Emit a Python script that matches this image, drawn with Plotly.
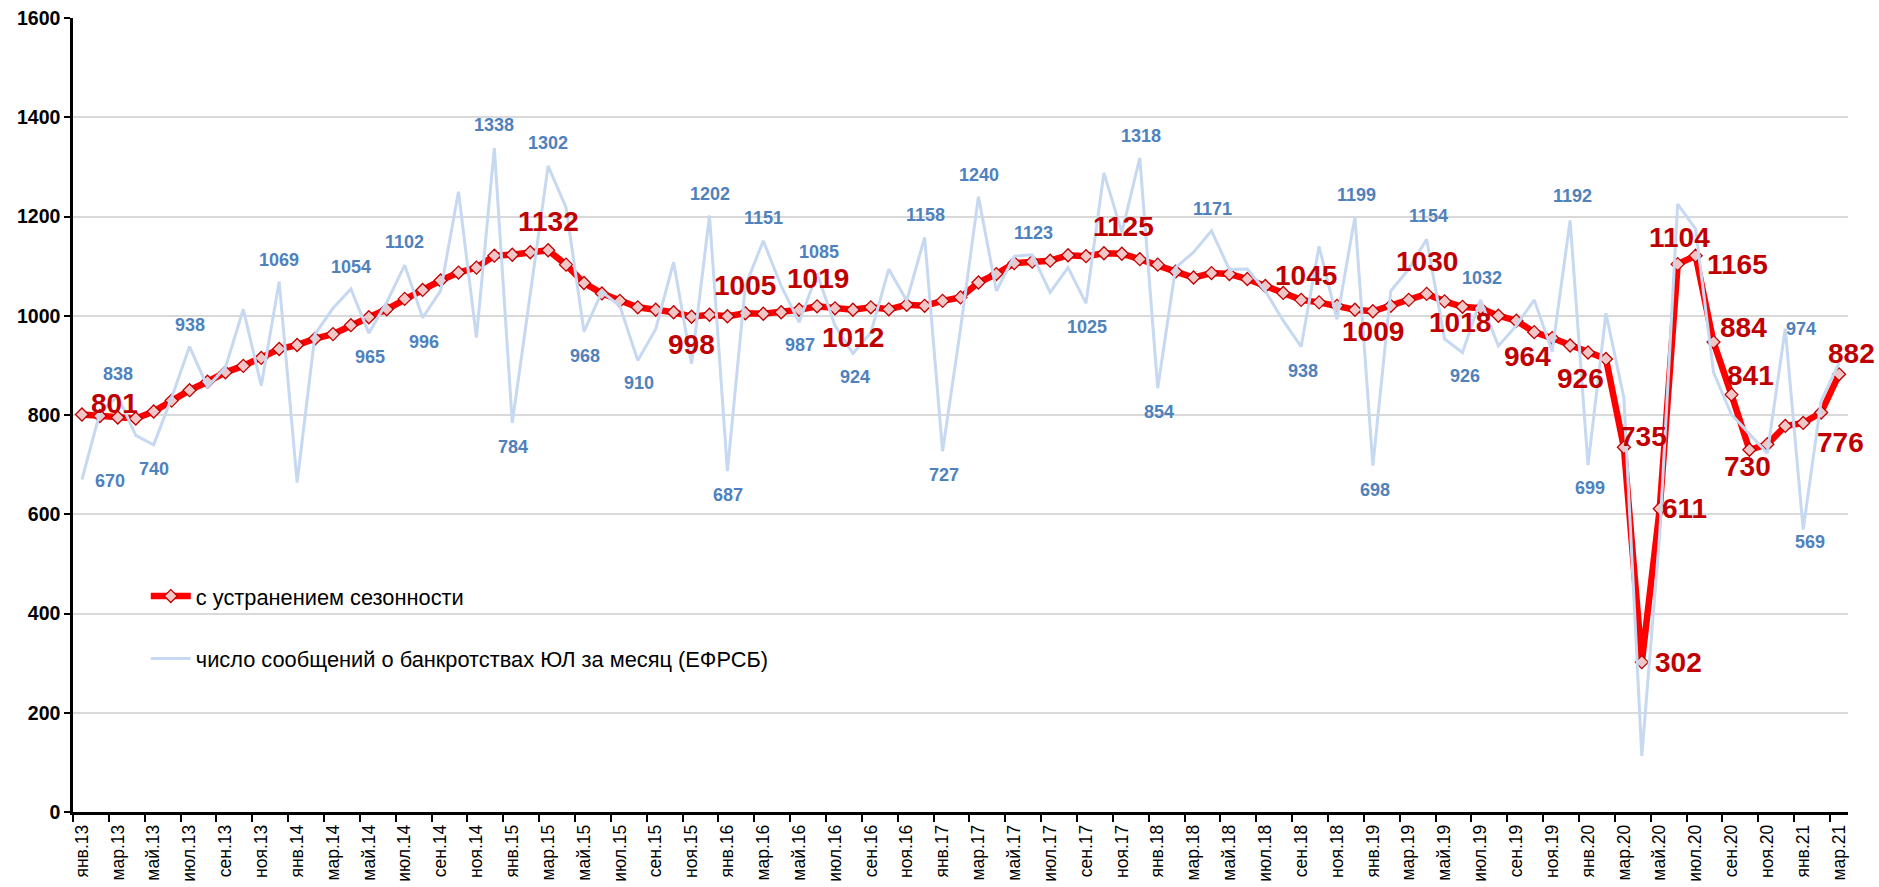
import plotly.graph_objects as go

# ---------------- data ----------------
month_abbr = ["янв", "фев", "мар", "апр", "май", "июн",
              "июл", "авг", "сен", "окт", "ноя", "дек"]
years = ["13", "14", "15", "16", "17", "18", "19", "20", "21"]
categories = [f"{m}.{y}" for y in years for m in month_abbr][:99]
tick_labels = categories[::2]

# seasonally adjusted series (red)
seasonally_adjusted = [
    801, 798, 795, 793, 807, 829, 850, 867, 886, 899, 915, 933,      # 2013
    941, 954, 963, 981, 997, 1013, 1034, 1052, 1071, 1087, 1097, 1121,  # 2014
    1123, 1128, 1132, 1103, 1066, 1045, 1030, 1017, 1012, 1007, 998, 1002,  # 2015
    999, 1005, 1004, 1007, 1012, 1019, 1015, 1012, 1017, 1013, 1022, 1020,  # 2016
    1030, 1037, 1067, 1084, 1106, 1109, 1111, 1122, 1120, 1126, 1125, 1114,  # 2017
    1103, 1089, 1077, 1086, 1084, 1074, 1060, 1046, 1032, 1027, 1020, 1012,  # 2018
    1009, 1020, 1032, 1044, 1029, 1018, 1015, 1000, 990, 967, 955, 940,  # 2019
    926, 913, 735, 302, 611, 1104, 1121, 947, 841, 730, 741, 778,    # 2020
    784, 805, 882,                                                   # 2021
]

# monthly number of EFRSB bankruptcy messages (light blue)
efrsb_monthly = [
    670, 805, 838, 759, 740, 835, 938, 857, 896, 1013, 859, 1069,    # 2013
    664, 963, 1015, 1054, 965, 1027, 1102, 996, 1050, 1250, 956, 1338,  # 2014
    784, 1042, 1302, 1218, 968, 1048, 1020, 910, 973, 1108, 903, 1202,  # 2015
    687, 1060, 1151, 1060, 987, 1085, 980, 924, 966, 1094, 1030, 1158,  # 2016
    727, 973, 1240, 1050, 1120, 1123, 1047, 1097, 1025, 1288, 1168, 1318,  # 2017
    854, 1097, 1128, 1171, 1093, 1094, 1050, 990, 938, 1140, 993, 1199,  # 2018
    698, 1050, 1094, 1154, 953, 926, 1032, 939, 980, 1032, 928, 1192,  # 2019
    699, 1005, 835, 113, 560, 1225, 1175, 886, 801, 762, 723, 974,   # 2020
    569, 828, 905,                                                   # 2021
]

# data labels: (month index, text, x offset px, y offset px)
red_labels = [
    (0, "801", 33, 11), (26, "1132", 0, 29), (34, "998", 0, -28),
    (37, "1005", 0, 28), (41, "1019", 1, 28), (43, "1012", 0, -28),
    (58, "1125", 2, 27), (68, "1045", 5, 24), (72, "1009", 0, -20),
    (75, "1030", 0, 32), (77, "1018", -3, -16), (81, "964", -7, -24),
    (84, "926", -8, -26), (86, "735", 20, 11), (87, "302", 37, 0),
    (88, "611", 25, 0), (89, "1104", 2, 27), (90, "1165", 42, -9),
    (91, "884", 30, 15), (92, "841", 19, 19), (93, "730", -2, -17),
    (97, "776", 19, -30), (98, "882", 12, 21),
]
blue_labels = [
    (0, "670", 28, -1), (2, "838", 0, 22), (4, "740", 0, -24), (6, "938", 0, 22),
    (11, "1069", 0, 22), (15, "1054", 0, 22), (16, "965", 1, -24), (18, "1102", 0, 23),
    (19, "996", 1, -24), (23, "1338", 0, 23), (24, "784", 1, -24), (26, "1302", 0, 23),
    (28, "968", 1, -24), (31, "910", 1, -23), (35, "1202", 1, 22), (36, "687", 1, -24),
    (38, "1151", 0, 23), (40, "987", 1, -23), (41, "1085", 2, 22), (43, "924", 2, -24),
    (47, "1158", 1, 22), (48, "727", 1, -24), (50, "1240", 1, 22), (53, "1123", 1, 22),
    (56, "1025", 1, -24), (59, "1318", 1, 22), (60, "854", 1, -24), (63, "1171", 1, 22),
    (68, "938", 2, -24), (71, "1199", 2, 22), (72, "698", 2, -24), (75, "1154", 2, 23),
    (77, "926", 2, -24), (78, "1032", 2, 22), (83, "1192", 2, 24), (84, "699", 2, -23),
    (95, "974", 16, 0), (96, "569", 7, -12),
]

# ---------------- figure ----------------
FONT = "Liberation Sans Narrow, Arial Narrow, Liberation Sans, Arial, sans-serif"
idx = list(range(len(categories)))

fig = go.Figure()
fig.add_trace(go.Scatter(
    x=idx, y=seasonally_adjusted, mode="lines+markers",
    name="с устранением сезонности", legendgroup="a",
    line=dict(color="#FF0000", width=6.5),
    marker=dict(symbol="diamond", size=10, color="#F2C6C6",
                line=dict(color="#C00000", width=1.3)),
    customdata=categories, hovertemplate="%{customdata}: %{y}<extra></extra>",
))
fig.add_trace(go.Scatter(
    x=idx, y=efrsb_monthly, mode="lines",
    name="число сообщений о банкротствах ЮЛ за месяц (ЕФРСБ)", legendgroup="b",
    line=dict(color="#C6D9F1", width=3),
    customdata=categories, hovertemplate="%{customdata}: %{y}<extra></extra>",
))

annotations = []
for i, txt, dx, dy in red_labels:
    annotations.append(dict(
        x=i, y=seasonally_adjusted[i], xref="x", yref="y", text=txt,
        showarrow=False, xshift=dx, yshift=dy,
        font=dict(family=FONT, size=28, color="#C00000", weight="bold")))
for i, txt, dx, dy in blue_labels:
    annotations.append(dict(
        x=i, y=efrsb_monthly[i], xref="x", yref="y", text=txt,
        showarrow=False, xshift=dx, yshift=dy,
        font=dict(family=FONT, size=18, color="#4F81BD", weight="bold")))

# white background of the legend area (hides gridlines behind the legend)
legend_bg = dict(type="rect", xref="paper", yref="paper",
                 x0=0.017, x1=0.418, y0=0.14, y1=0.335,
                 fillcolor="white", line=dict(width=0), layer="between")

fig.update_layout(
    width=1879, height=887,
    margin=dict(l=73, r=31, t=18, b=75, autoexpand=False),
    paper_bgcolor="white", plot_bgcolor="white",
    font=dict(family=FONT, color="black"),
    showlegend=True,
    legend=dict(x=0.041, y=0.298, xanchor="left", yanchor="top",
                bgcolor="rgba(255,255,255,0)", borderwidth=0,
                font=dict(family=FONT, size=21.8, color="black"),
                tracegroupgap=31, itemwidth=40),
    shapes=[legend_bg],
    annotations=annotations,
)
fig.update_yaxes(
    range=[0, 1600], dtick=200, tick0=0, automargin=False,
    showgrid=True, gridcolor="#D9D9D9", gridwidth=1.5,
    zeroline=False, showline=True, linecolor="black", linewidth=2.5,
    ticks="outside", ticklen=6, tickwidth=2, tickcolor="black",
    tickfont=dict(family=FONT, size=19.5, color="black", weight="bold"),
)
fig.update_xaxes(
    range=[-0.5, len(categories) - 0.5], automargin=False,
    tickmode="array",
    tickvals=[k - 0.5 for k in range(0, len(categories), 2)],
    ticktext=tick_labels, tickangle=-90, ticklabelshift=9,
    ticklabelstandoff=-4,
    showgrid=False, zeroline=False, showline=True,
    linecolor="black", linewidth=2.5,
    ticks="outside", ticklen=7, tickwidth=2, tickcolor="black",
    tickfont=dict(family=FONT, size=17.5, color="black"),
)

fig.write_html("out.html", config={"displayModeBar": False},
               post_script="document.body.style.margin='0';")
